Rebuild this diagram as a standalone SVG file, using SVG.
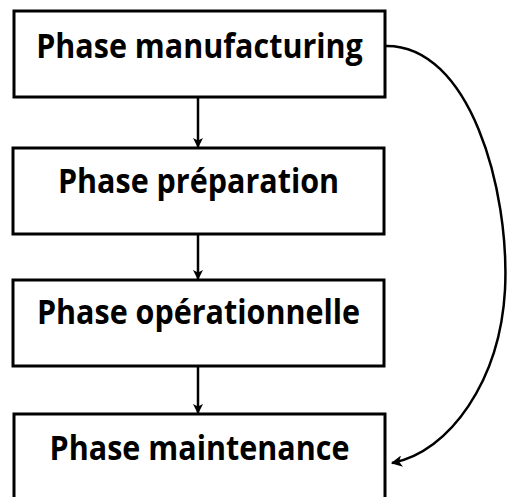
<svg xmlns="http://www.w3.org/2000/svg" width="507" height="497" viewBox="0 0 507 497">
  <style>
    .box { fill: #ffffff; stroke: #000000; stroke-width: 3; }
    .label { font-family: "Open Sans", "DejaVu Sans", sans-serif; font-weight: bold; font-size: 30.5px; fill: #000000; text-anchor: middle; }
    .link { fill: none; stroke: #000000; stroke-width: 2.5; }
  </style>
  <defs>
    <marker id="head" viewBox="0 0 10 10" refX="9" refY="5" markerWidth="4" markerHeight="4" orient="auto" markerUnits="strokeWidth">
      <path d="M0,0 L10,5 L0,10 L2.5,5 Z" fill="#000000"/>
    </marker>
    <marker id="head-lg" viewBox="0 0 10 10" refX="9" refY="5" markerWidth="5" markerHeight="4.5" orient="auto" markerUnits="strokeWidth">
      <path d="M0,0 L10,5 L0,10 L2.5,5 Z" fill="#000000"/>
    </marker>
  </defs>
  <rect width="507" height="497" fill="#ffffff"/>

  <g id="node-manufacturing">
    <rect class="box" x="14" y="11" width="371" height="86"/>
    <text class="label" transform="translate(199.5,57.5) scale(1,1.1)">Phase manufacturing</text>
  </g>
  <g id="node-preparation">
    <rect class="box" x="13" y="148" width="371" height="86"/>
    <text class="label" transform="translate(198.5,193) scale(1,1.1)">Phase préparation</text>
  </g>
  <g id="node-operationnelle">
    <rect class="box" x="13" y="280" width="371" height="86"/>
    <text class="label" transform="translate(198.5,324) scale(1,1.1)">Phase opérationnelle</text>
  </g>
  <g id="node-maintenance">
    <rect class="box" x="14" y="414" width="371" height="100"/>
    <text class="label" transform="translate(199.5,460) scale(1,1.1)">Phase maintenance</text>
  </g>

  <g id="connectors">
    <path class="link" d="M198,97 L198,147" marker-end="url(#head)"/>
    <path class="link" d="M198,234 L198,279" marker-end="url(#head)"/>
    <path class="link" d="M198,366 L198,413" marker-end="url(#head)"/>
    <path class="link" d="M385,46 C470,44 510,190 505,290 C500,380 450,452 392,463" marker-end="url(#head-lg)"/>
  </g>
</svg>
